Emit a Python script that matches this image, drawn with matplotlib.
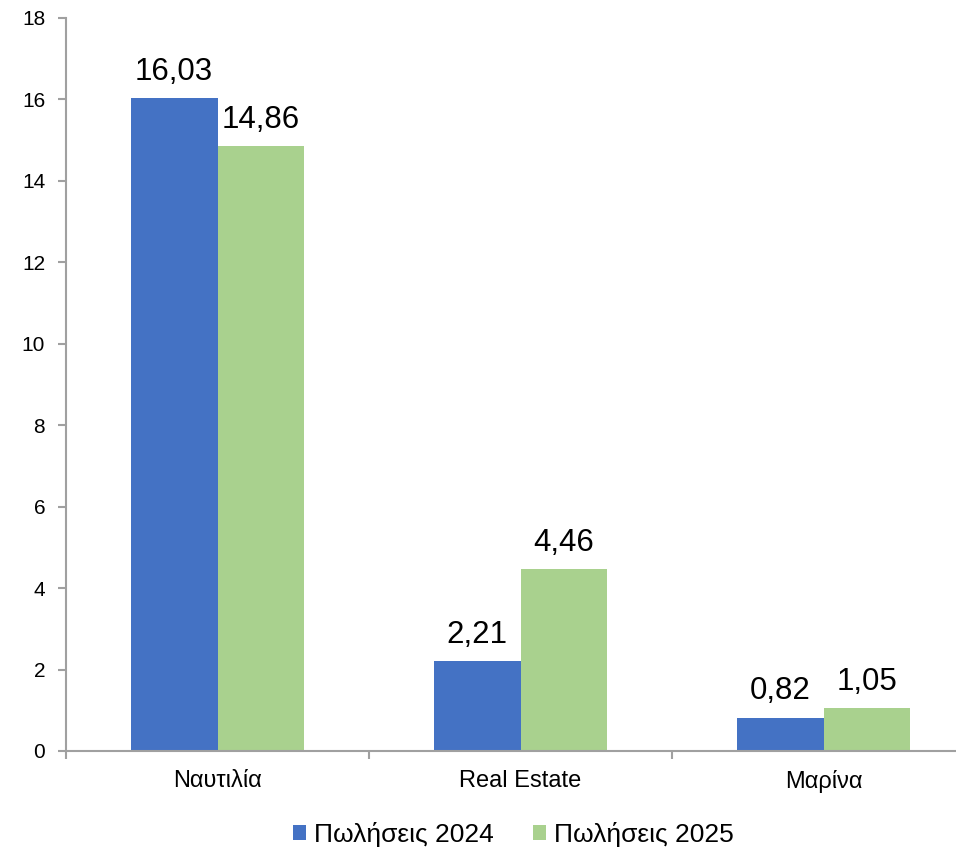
import matplotlib
matplotlib.use("Agg")
import matplotlib.pyplot as plt
import numpy as np

plt.rcParams['font.family'] = ['Liberation Sans', 'DejaVu Sans']

# data
categories = ['Ναυτιλία', 'Real Estate', 'Μαρίνα']
sales_2024 = [16.03, 2.21, 0.82]
sales_2025 = [14.86, 4.46, 1.05]
series_names = ['Πωλήσεις 2024', 'Πωλήσεις 2025']
y_ticks = [0, 2, 4, 6, 8, 10, 12, 14, 16, 18]

blue = '#4472C4'
green = '#A9D18E'
grey = '#A0A0A0'

fig = plt.figure(figsize=(9.56, 8.49), dpi=100)
# axes runs a bit past the right edge, like the original
ax = fig.add_axes([66 / 956, 98 / 849, 909 / 956, 733 / 849])

x = np.arange(len(categories))
w = 0.287
b1 = ax.bar(x - w / 2, sales_2024, w, color=blue, label=series_names[0])
b2 = ax.bar(x + w / 2, sales_2025, w, color=green, label=series_names[1])

def fmt(v):
    return f"{v:.2f}".replace('.', ',')

ax.bar_label(b1, labels=[fmt(v) for v in sales_2024], padding=8, fontsize=22.5)
ax.bar_label(b2, labels=[fmt(v) for v in sales_2025], padding=8, fontsize=22.5)

ax.set_xlim(-0.5, 2.5)
ax.set_ylim(0, 18)
ax.set_yticks(y_ticks)
ax.set_yticklabels([str(t) for t in y_ticks], fontsize=15)

# category labels in the middle, tick marks on the boundaries
ax.set_xticks(x)
ax.set_xticklabels(categories, fontsize=17)
ax.tick_params(axis='x', which='major', length=0, pad=14)
ax.set_xticks([-0.5, 0.5, 1.5, 2.5], minor=True)
ax.tick_params(axis='x', which='minor', length=6, width=1.5, color=grey)
ax.tick_params(axis='y', length=6, width=1.5, color=grey, pad=9)

for s in ['top', 'right']:
    ax.spines[s].set_visible(False)
for s in ['left', 'bottom']:
    ax.spines[s].set_color(grey)
    ax.spines[s].set_linewidth(1.5)

fig.legend(handles=[b1, b2], loc='center', bbox_to_anchor=(0.537, 0.017),
           ncol=2, frameon=False, fontsize=19, handlelength=0.5,
           handleheight=0.5, handletextpad=0.3, columnspacing=1.5)

fig.savefig('out.png', dpi=100)
